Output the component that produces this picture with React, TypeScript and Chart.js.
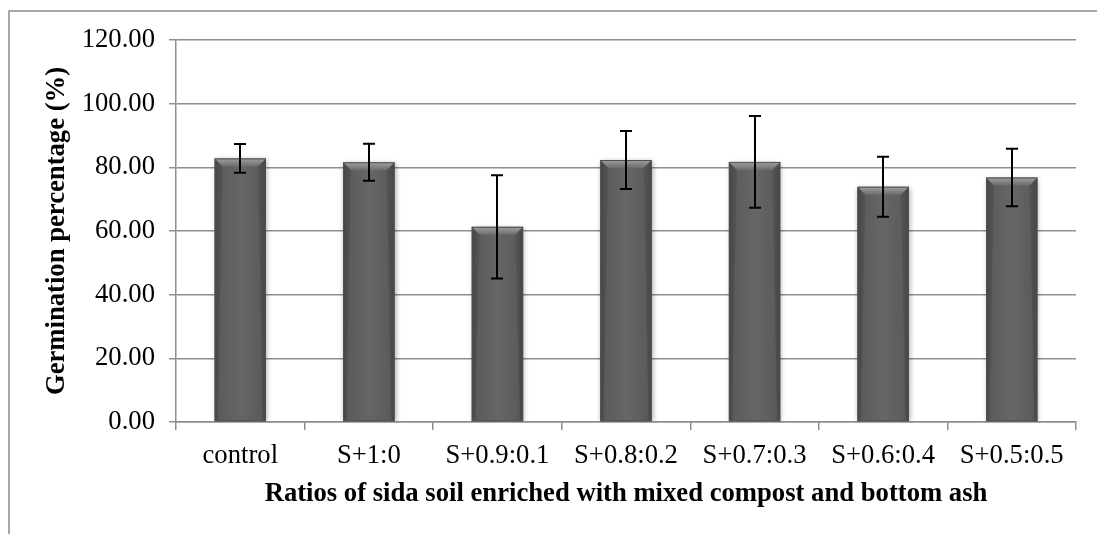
import React, { useEffect, useRef } from "react";
import { Chart, registerables } from "chart.js";

Chart.register(...registerables);

const categories = ["control", "S+1:0", "S+0.9:0.1", "S+0.8:0.2", "S+0.7:0.3", "S+0.6:0.4", "S+0.5:0.5"];
const germination = [82.8, 81.6, 61.3, 82.3, 81.7, 73.9, 76.8];
const errors = [4.5, 5.8, 16.2, 9.1, 14.4, 9.4, 9.0];
const yTicks = [0, 20, 40, 60, 80, 100, 120];
const yTitle = "Germination percentage (%)";
const xTitle = "Ratios of sida soil enriched with mixed compost and bottom ash";

const FONT = "'Liberation Serif', 'Times New Roman', serif";
const FS = 26.67;
const GRID = "#8e8e8e";

const framePlugin = {
  id: "frame",
  beforeDraw(chart: any) {
    const ctx = chart.ctx;
    ctx.save();
    ctx.strokeStyle = "#8c8c8c";
    ctx.lineWidth = 1.5;
    ctx.strokeRect(9, 11, 1300, 700);
    ctx.restore();
  },
};

const shadowPlugin = {
  id: "barShadow",
  beforeDatasetsDraw(chart: any) {
    const ctx = chart.ctx;
    ctx.save();
    ctx.shadowColor = "rgba(0,0,0,0.35)";
    ctx.shadowBlur = 5;
    ctx.shadowOffsetX = 1;
    ctx.shadowOffsetY = 1;
  },
  afterDatasetsDraw(chart: any) {
    chart.ctx.restore();
  },
};

const bevelErrorPlugin = {
  id: "bevelError",
  afterDatasetsDraw(chart: any) {
    const ctx = chart.ctx;
    const meta = chart.getDatasetMeta(0);
    const y = chart.scales.y;
    ctx.save();
    meta.data.forEach((bar: any, i: number) => {
      const w = bar.width;
      const x0 = bar.x - w / 2;
      const x1 = bar.x + w / 2;
      const top = bar.y;
      const bottom = bar.base;
      const b = 8;
      const g = ctx.createLinearGradient(0, top, 0, top + b);
      g.addColorStop(0, "#a0a0a0");
      g.addColorStop(1, "#6c6c6c");
      ctx.fillStyle = g;
      ctx.beginPath();
      ctx.moveTo(x0, top);
      ctx.lineTo(x1, top);
      ctx.lineTo(x1 - b, top + b);
      ctx.lineTo(x0 + b, top + b);
      ctx.closePath();
      ctx.fill();
      ctx.fillStyle = "rgba(0,0,0,0.1)";
      ctx.beginPath();
      ctx.moveTo(x0, top);
      ctx.lineTo(x0 + b, top + b);
      ctx.lineTo(x0 + 3, bottom);
      ctx.lineTo(x0, bottom);
      ctx.closePath();
      ctx.fill();
      ctx.beginPath();
      ctx.moveTo(x1, top);
      ctx.lineTo(x1 - b, top + b);
      ctx.lineTo(x1 - 3, bottom);
      ctx.lineTo(x1, bottom);
      ctx.closePath();
      ctx.fill();
      ctx.strokeStyle = "#505050";
      ctx.lineWidth = 1;
      ctx.strokeRect(x0 + 0.5, top + 0.5, w - 1, bottom - top - 1);

      const v = germination[i];
      const e = errors[i];
      const yt = y.getPixelForValue(v + e);
      const yb = y.getPixelForValue(v - e);
      const cx = Math.round(bar.x);
      ctx.strokeStyle = "#000";
      ctx.lineWidth = 2;
      ctx.beginPath();
      ctx.moveTo(cx, yt);
      ctx.lineTo(cx, yb);
      ctx.moveTo(cx - 6, yt);
      ctx.lineTo(cx + 6, yt);
      ctx.moveTo(cx - 6, yb);
      ctx.lineTo(cx + 6, yb);
      ctx.stroke();
    });
    ctx.restore();
  },
};

export default function App() {
  const ref = useRef<HTMLCanvasElement | null>(null);

  useEffect(() => {
    if (!ref.current) return;
    const chart = new Chart(ref.current, {
      type: "bar",
      data: {
        labels: categories,
        datasets: [
          {
            label: "Germination",
            data: germination,
            backgroundColor: (context: any) => {
              const ch = context.chart;
              const xs = ch.scales && ch.scales.x;
              if (!xs || !ch.chartArea) return "#5f5f5f";
              const cx = xs.getPixelForValue(context.dataIndex);
              const half = ((ch.chartArea.right - ch.chartArea.left) / categories.length) * 0.2;
              const g = ch.ctx.createLinearGradient(cx - half, 0, cx + half, 0);
              g.addColorStop(0, "#4e4e4e");
              g.addColorStop(0.12, "#5c5c5c");
              g.addColorStop(0.5, "#666666");
              g.addColorStop(0.88, "#5c5c5c");
              g.addColorStop(1, "#4e4e4e");
              return g;
            },
            borderWidth: 0,
            barPercentage: 0.4,
            categoryPercentage: 1,
          },
        ],
      },
      options: {
        animation: false,
        responsive: false,
        layout: { padding: { left: 40, top: 40, right: 21, bottom: 20 } },
        plugins: {
          legend: { display: false },
          tooltip: { enabled: false },
        },
        scales: {
          x: {
            grid: {
              display: true,
              drawOnChartArea: false,
              drawTicks: true,
              tickLength: 8,
              color: GRID,
              lineWidth: 1.5,
            },
            border: { display: true, color: GRID, width: 1.5 },
            ticks: {
              color: "#000",
              font: { family: FONT, size: FS },
              padding: 10,
              maxRotation: 0,
            },
            title: {
              display: true,
              text: xTitle,
              color: "#000",
              font: { family: FONT, size: FS, weight: "bold" },
              padding: { top: 0, bottom: 4 },
            },
            afterFit: (scale: any) => {
              scale.height = 92;
            },
          },
          y: {
            min: 0,
            max: 120,
            afterBuildTicks: (scale: any) => {
              scale.ticks = yTicks.map((v) => ({ value: v }));
            },
            grid: {
              color: GRID,
              lineWidth: 1.5,
              tickLength: 7,
              drawTicks: true,
            },
            border: { display: true, color: GRID, width: 1.5 },
            ticks: {
              color: "#000",
              font: { family: FONT, size: FS },
              padding: 14,
              callback: (v: any) => Number(v).toFixed(2),
            },
            title: {
              display: true,
              text: yTitle,
              color: "#000",
              font: { family: FONT, size: FS, weight: "bold" },
              padding: { top: 1, bottom: 0 },
            },
            afterFit: (scale: any) => {
              scale.width = 136;
            },
          },
        },
      },
      plugins: [framePlugin, shadowPlugin, bevelErrorPlugin],
    });
    return () => chart.destroy();
  }, []);

  return (
    <div style={{ position: "fixed", left: 0, top: 0, width: 1097, height: 534, background: "#fff" }}>
      <canvas ref={ref} width={1097} height={534} style={{ display: "block", width: 1097, height: 534 }} />
    </div>
  );
}
